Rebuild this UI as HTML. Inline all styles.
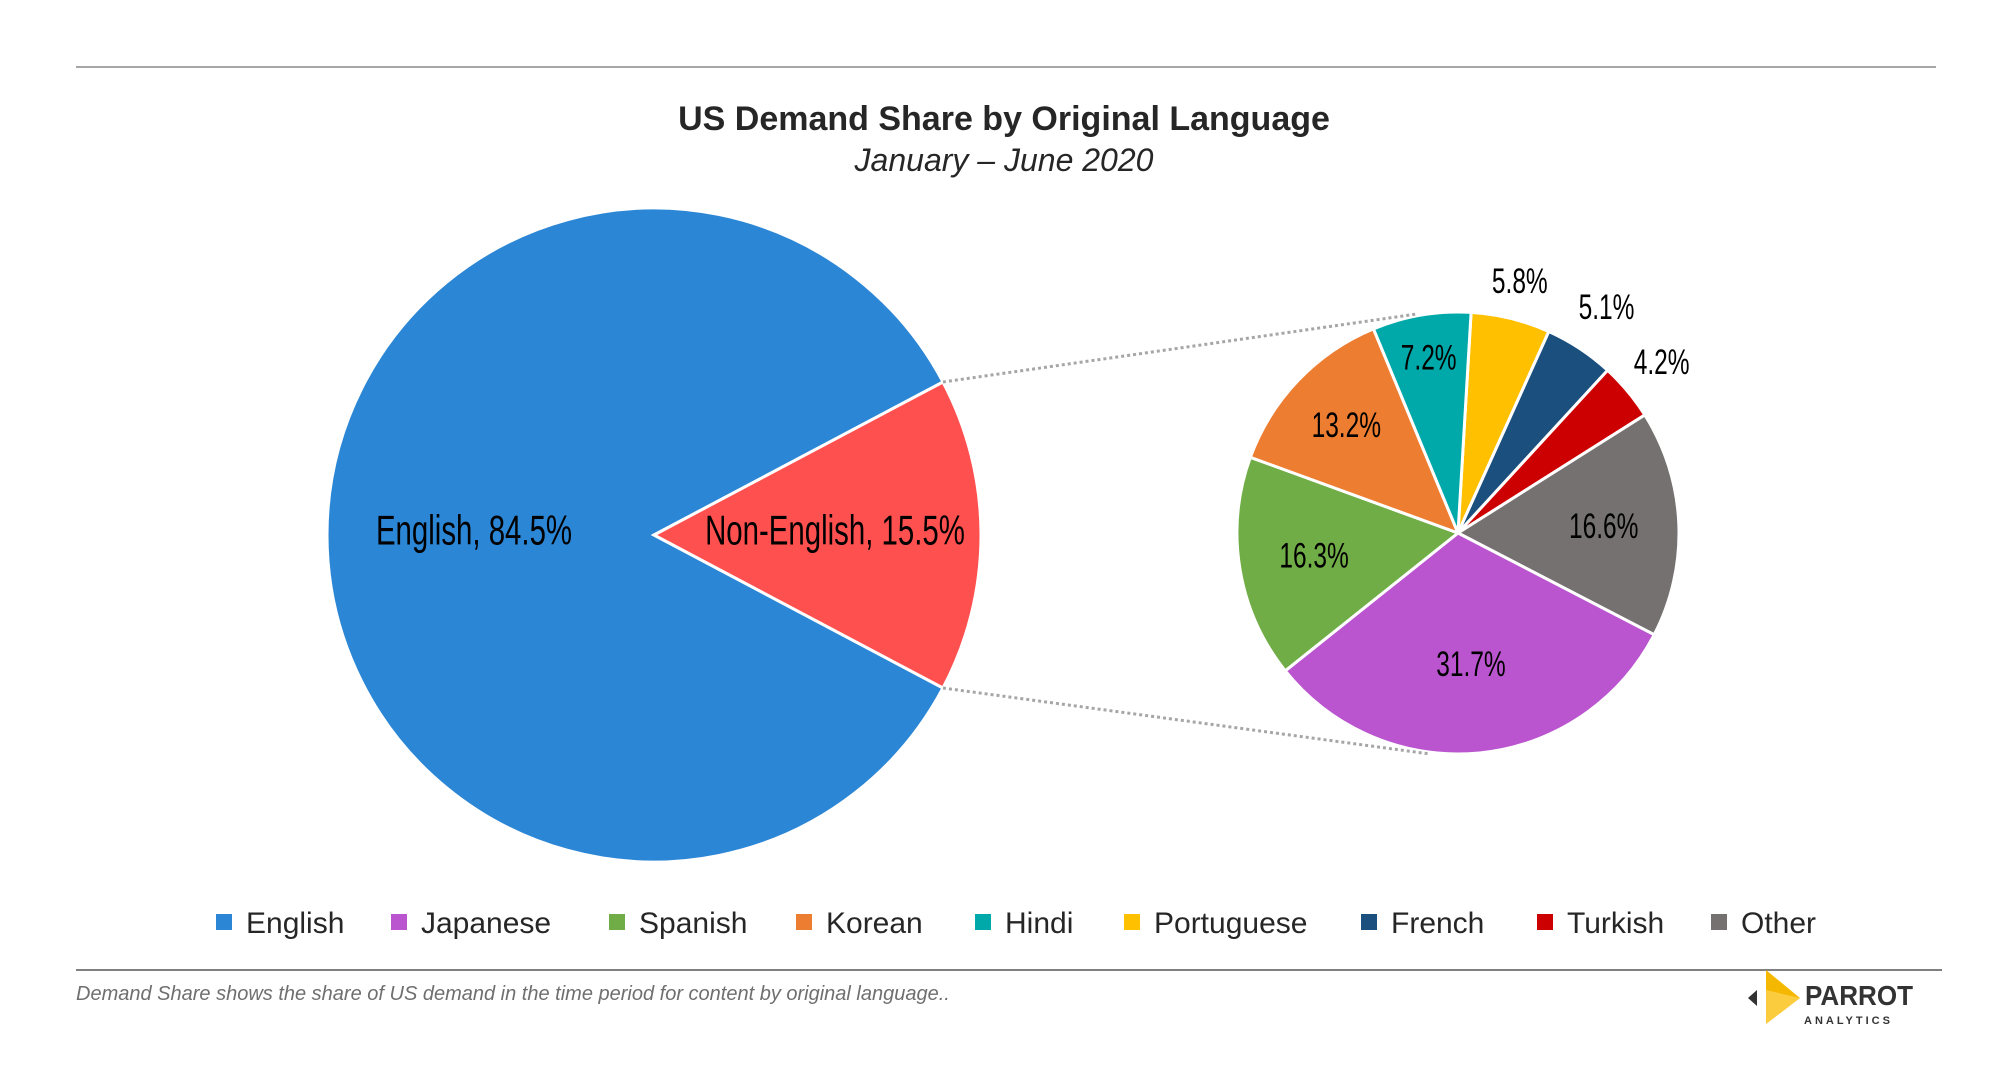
<!DOCTYPE html>
<html><head><meta charset="utf-8"><style>
body{margin:0;background:#fff;}
svg{display:block;}
</style></head><body>
<svg id="chart" width="2000" height="1077" viewBox="0 0 2000 1077" xmlns="http://www.w3.org/2000/svg">
<line x1="76" y1="67" x2="1936" y2="67" stroke="#a6a6a6" stroke-width="2"/>
<text x="1004" y="130" text-anchor="middle" font-family="Liberation Sans, sans-serif" font-weight="bold" font-size="34" fill="#262626">US Demand Share by Original Language</text>
<text x="1004" y="171" text-anchor="middle" font-family="Liberation Sans, sans-serif" font-style="italic" font-size="32" fill="#262626">January – June 2020</text>
<g id="big"></g>
<g id="small"></g>
<g id="legend"></g>
<line x1="76" y1="970" x2="1942" y2="970" stroke="#808080" stroke-width="2"/>
<text x="76" y="1000" font-family="Liberation Sans, sans-serif" font-style="italic" font-size="20" fill="#6f6f6f">Demand Share shows the share of US demand in the time period for content by original language..</text>
<g>
<polygon points="1757,990 1757,1006 1748,998" fill="#333"/>
<polygon points="1766,970 1800,998 1766,1024" fill="#f5b800"/>
<polygon points="1766,990 1800,998 1766,1024" fill="#ffd866" opacity="0.6"/>
<text x="1805" y="1005" font-family="Liberation Sans, sans-serif" font-weight="bold" font-size="28" fill="#333" textLength="108" lengthAdjust="spacingAndGlyphs">PARROT</text>
<text x="1804" y="1024" font-family="Liberation Sans, sans-serif" font-weight="bold" font-size="11" letter-spacing="3" fill="#333">ANALYTICS</text>
</g>
</svg>
<script>
const mainCats=["English","Non-English"];
const mainVals=[84.5,15.5];
const subCats=["Portuguese","French","Turkish","Other","Japanese","Spanish","Korean","Hindi"];
const subVals=[5.8,5.1,4.2,16.6,31.7,16.3,13.2,7.2];
const subLabels=["5.8%","5.1%","4.2%","16.6%","31.7%","16.3%","13.2%","7.2%"];
const legendCats=["English","Japanese","Spanish","Korean","Hindi","Portuguese","French","Turkish","Other"];
const colors={"English":"#2b86d5","Non-English":"#ff5050","Japanese":"#ba55cf","Spanish":"#70ad47","Korean":"#ed7d31","Hindi":"#00a9a9","Portuguese":"#ffc000","French":"#1b4f7e","Turkish":"#cc0000","Other":"#767171"};
const NS="http://www.w3.org/2000/svg";
function mk(t,a,p){const e=document.createElementNS(NS,t);for(const k in a)e.setAttribute(k,a[k]);p.appendChild(e);return e;}
function pt(cx,cy,r,deg){const a=deg*Math.PI/180;return [cx+r*Math.sin(a),cy-r*Math.cos(a)];}
function arc(cx,cy,r,a0,a1){const p0=pt(cx,cy,r,a0),p1=pt(cx,cy,r,a1);const lg=(a1-a0)>180?1:0;
return `M${cx},${cy}L${p0[0]},${p0[1]}A${r},${r} 0 ${lg} 1 ${p1[0]},${p1[1]}Z`;}
function label(p,x,y,txt,size,name){
 const g=mk('g',{transform:`translate(${x},${y}) scale(0.7,1)`},p);
 const t=mk('text',{x:0,y:0,'text-anchor':'middle','dominant-baseline':'central','font-family':'Liberation Sans Narrow, Liberation Sans, sans-serif','font-size':size,fill:'#000'},g);
 
 
 t.textContent=txt;}
const big=document.getElementById('big');
const BX=654,BY=535,BR=327;
const mTot=mainVals.reduce((a,b)=>a+b,0);
const neSpan=mainVals[1]/mTot*360;
const starts=[90+neSpan/2, 90-neSpan/2];
const ends=[90+neSpan/2+mainVals[0]/mTot*360, 90+neSpan/2];
for(let i=0;i<2;i++){
 const s=mk('path',{d:arc(BX,BY,BR,starts[i],ends[i]),fill:colors[mainCats[i]],stroke:'#fff','stroke-width':3},big);
 
 
}
label(big,474,530,mainCats[0]+", "+mainVals[0]+"%",42,'label-english');
label(big,835,530,mainCats[1]+", "+mainVals[1]+"%",42,'label-non-english');
const small=document.getElementById('small');
const SX=1458,SY=533,SR=221;
const sTot=subVals.reduce((a,b)=>a+b,0);
let a=3.4;
const factor={"Portuguese":1.17,"French":1.22,"Turkish":1.2,"Hindi":0.8,"Japanese":0.6,"Korean":0.7};
subVals.forEach((v,i)=>{
 const span=v/sTot*360;
 const s=mk('path',{d:arc(SX,SY,SR,a,a+span),fill:colors[subCats[i]],stroke:'#fff','stroke-width':3},small);
 
 
 const mid=a+span/2;
 const f=factor[subCats[i]]||0.66;
 const p=pt(SX,SY,SR*f,mid);
 label(small,p[0],p[1],subLabels[i],35,'label-'+subCats[i].toLowerCase());
 a+=span;
});
const e1=pt(BX,BY,BR,starts[1]),e2=pt(BX,BY,BR,ends[1]);
const c1=mk('line',{x1:e1[0],y1:e1[1],x2:1417,y2:314,stroke:'#a6a6a6','stroke-width':3,'stroke-dasharray':'3,3'},small);


const c2=mk('line',{x1:e2[0],y1:e2[1],x2:1430,y2:754,stroke:'#a6a6a6','stroke-width':3,'stroke-dasharray':'3,3'},small);


const lg=document.getElementById('legend');
const lx=[224,399,617,804,983,1132,1369,1545,1719];
legendCats.forEach((c,i)=>{
 const g=mk('g',{},lg);
 
 
 mk('rect',{x:lx[i]-8,y:914,width:16,height:16,fill:colors[c]},g);
 const t=mk('text',{x:lx[i]+22,y:933,'font-family':'Liberation Sans, sans-serif','font-size':30,fill:'#262626'},g);
 t.textContent=c;
});
</script>
</body></html>
